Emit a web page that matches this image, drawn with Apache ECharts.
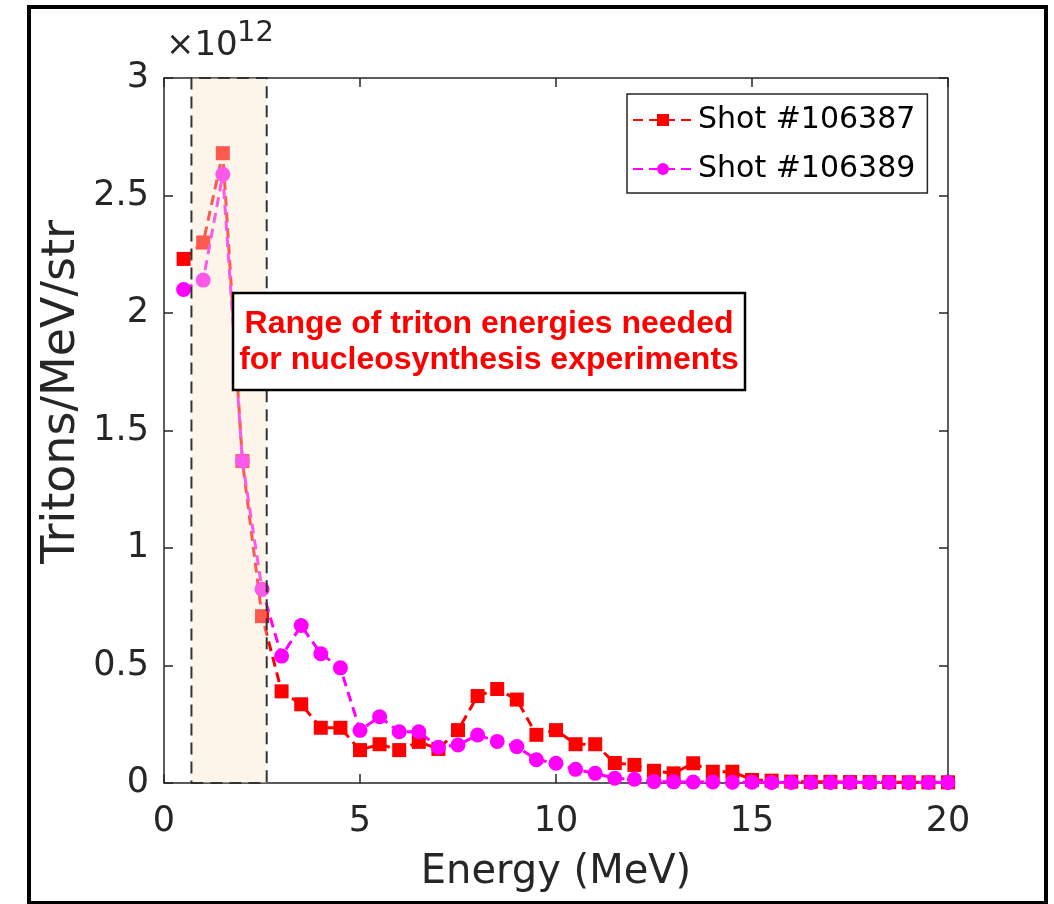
<!DOCTYPE html>
<html>
<head>
<meta charset="utf-8">
<script src="https://cdn.jsdelivr.net/npm/echarts@6/dist/echarts.min.js"></script>
<style>
  html, body { margin: 0; padding: 0; background: #ffffff; }
  #chart { width: 1054px; height: 904px; }
</style>
</head>
<body>
<div id="chart"></div>
<script>
// Energies (MeV)
const energies = [0.5,1,1.5,2,2.5,3,3.5,4,4.5,5,5.5,6,6.5,7,7.5,8,8.5,9,9.5,10,
                  10.5,11,11.5,12,12.5,13,13.5,14,14.5,15,15.5,16,16.5,17,17.5,18,18.5,19,19.5,20];
// Tritons/MeV/str, in units of 10^12
const shot106387 = [2.23,2.30,2.68,1.37,0.71,0.39,0.335,0.235,0.235,0.14,0.165,0.14,0.175,0.145,0.225,0.37,0.40,0.355,0.205,0.225,
                    0.165,0.165,0.085,0.077,0.052,0.041,0.084,0.048,0.048,0.013,0.010,0.006,0.005,0.005,0.004,0.004,0.004,0.003,0.003,0.003];
const shot106389 = [2.10,2.14,2.59,1.37,0.825,0.54,0.67,0.55,0.49,0.224,0.282,0.218,0.218,0.152,0.162,0.204,0.177,0.155,0.099,0.084,
                    0.058,0.041,0.020,0.016,0.006,0.005,0.004,0.004,0.003,0.003,0.002,0.002,0.002,0.002,0.002,0.002,0.002,0.002,0.002,0.002];
const seriesNames = ['Shot #106387', 'Shot #106389'];
const xTickLabels = ['0','5','10','15','20'];
const yTickLabels = ['0','0.5','1','1.5','2','2.5','3'];
const shadedRange = [0.7, 2.62]; // MeV
const annotationLines = ['Range of triton energies needed', 'for nucleosynthesis experiments'];

const AX = '#262626';
const FONT = 'DejaVu Sans';

const toPairs = (ys) => energies.map((x, i) => [x, ys[i]]);

const chart = echarts.init(document.getElementById('chart'), null, { renderer: 'canvas' });

const axisCommon = {
  axisLine: { show: true, onZero: false, lineStyle: { color: AX, width: 1.5 } },
  axisTick: { show: true, inside: true, length: 9, lineStyle: { color: AX, width: 1.5 } },
  splitLine: { show: false }
};

const option = {
  backgroundColor: '#ffffff',
  animation: false,
  grid: { left: 164, right: 106, top: 78, bottom: 121, containLabel: false },
  xAxis: [
    Object.assign({}, axisCommon, {
      type: 'value', min: 0, max: 20, interval: 5, position: 'bottom',
      axisLabel: { fontFamily: FONT, fontSize: 35, color: AX, margin: 21,
        formatter: (v) => xTickLabels[Math.round(v / 5)] },
      name: 'Energy (MeV)', nameLocation: 'middle', nameGap: 70,
      nameTextStyle: { fontFamily: FONT, fontSize: 40, color: AX }
    }),
    Object.assign({}, axisCommon, {
      type: 'value', min: 0, max: 20, interval: 5, position: 'top',
      axisLabel: { show: false }
    })
  ],
  yAxis: [
    Object.assign({}, axisCommon, {
      type: 'value', min: 0, max: 3, interval: 0.5, position: 'left',
      axisLabel: { fontFamily: FONT, fontSize: 35, color: AX, margin: 15,
        formatter: (v) => yTickLabels[Math.round(v / 0.5)] }
    }),
    Object.assign({}, axisCommon, {
      type: 'value', min: 0, max: 3, interval: 0.5, position: 'right',
      axisLabel: { show: false }
    })
  ],
  legend: {
    data: seriesNames,
    orient: 'vertical',
    left: 627, top: 94,
    padding: [9, 12, 7, 5],
    itemGap: 15,
    itemWidth: 60, itemHeight: 15,
    backgroundColor: '#ffffff',
    borderColor: AX, borderWidth: 1.5, borderRadius: 0,
    textStyle: { fontFamily: FONT, fontSize: 30, color: '#000000', lineHeight: 34, padding: [0,0,0,0] }
  },
  series: [
    {
      name: seriesNames[0], type: 'line', xAxisIndex: 0, yAxisIndex: 0,
      data: toPairs(shot106387),
      symbol: 'rect', symbolSize: 14, showAllSymbol: true,
      itemStyle: { color: '#ff0000' },
      lineStyle: { color: '#ff0000', width: 3, type: [10, 6] },
      z: 2
    },
    {
      name: seriesNames[1], type: 'line', xAxisIndex: 0, yAxisIndex: 0,
      data: toPairs(shot106389),
      symbol: 'circle', symbolSize: 15, showAllSymbol: true,
      itemStyle: { color: '#ff00ff' },
      lineStyle: { color: '#ff00ff', width: 3, type: [10, 6] },
      z: 3
    },
    {
      name: 'range', type: 'line', xAxisIndex: 0, yAxisIndex: 0,
      data: [], silent: true, z: 6,
      markArea: {
        silent: true, z: 6,
        itemStyle: { color: 'rgba(250,230,198,0.39)', borderColor: '#333333', borderWidth: 2, borderType: [12, 7] },
        label: { show: false },
        data: [[{ coord: [shadedRange[0], 0] }, { coord: [shadedRange[1], 3] }]]
      }
    }
  ],
  graphic: [
    { type: 'rect', z: 0, silent: true,
      shape: { x: 29, y: 7, width: 1017, height: 896 },
      style: { fill: 'none', stroke: '#000000', lineWidth: 4 } },
    { type: 'text', z: 100, left: 166, top: 29,
      style: { text: '\u00d710', fontFamily: FONT, fontSize: 34, fill: AX } },
    { type: 'text', z: 100, left: 237, top: 19,
      style: { text: '12', fontFamily: FONT, fontSize: 29, fill: AX } },
    { type: 'text', z: 100, x: 62, y: 392, rotation: Math.PI / 2,
      style: { text: 'Tritons/MeV/str', fontFamily: FONT, fontSize: 46, fill: AX,
               textAlign: 'center', textVerticalAlign: 'middle' } },
    { type: 'rect', z: 100, silent: true,
      shape: { x: 233, y: 293, width: 512, height: 97 },
      style: { fill: '#ffffff', stroke: '#000000', lineWidth: 2.5 } },
    { type: 'text', z: 101, x: 489, y: 342,
      style: { text: annotationLines.join('\n'), fontFamily: 'Liberation Sans', fontWeight: 'bold',
               fontSize: 32, lineHeight: 36, fill: '#ff0000', textAlign: 'center', textVerticalAlign: 'middle' } }
  ]
};

chart.setOption(option);
</script>
</body>
</html>
